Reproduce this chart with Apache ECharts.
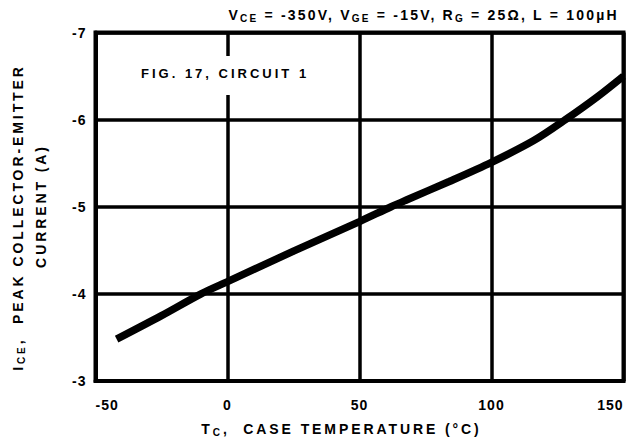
<!DOCTYPE html>
<html>
<head>
<meta charset="utf-8">
<script src="https://cdn.jsdelivr.net/npm/echarts@6/dist/echarts.min.js"></script>
<style>
html,body{margin:0;padding:0;background:#fff;}
#chart{width:628px;height:442px;}
#chart text{letter-spacing:1px;}
#chart text[style*="14.02px"], #chart text[style*="10.02px"]{letter-spacing:2.2px;}
#chart text[style*="14.03px"], #chart text[style*="10.03px"]{letter-spacing:2.9px;}
#chart text[style*="13.01px"]{letter-spacing:3px;}
</style>
</head>
<body>
<div id="chart"></div>
<script>
// Data
const caseTemp = [-42, -25, -10, 0, 25, 50, 62, 68, 84, 100, 116, 128, 140, 150];
const peakCurrent = [-3.48, -3.75, -4.0, -4.14, -4.49, -4.83, -5.0, -5.08, -5.29, -5.51, -5.76, -6.0, -6.26, -6.50];
const xTicks = [-50, 0, 50, 100, 150];
const yTicks = [-7, -6, -5, -4, -3];

const FAM = '"Liberation Sans", Arial, Helvetica, sans-serif';
const chart = echarts.init(document.getElementById('chart'), null, {renderer: 'svg'});

// measure text width including letter spacing
const mctx = document.createElement('canvas').getContext('2d');
function measure(text, size, ls) {
  mctx.font = 'bold ' + size + 'px ' + FAM;
  return mctx.measureText(text).width + text.length * ls;
}
// Build a horizontal run of tokens (main text + subscripts) as a group
function textRun(tokens, opts) {
  const children = [];
  let cx = 0;
  const widths = tokens.map(tk => measure(tk.t, tk.size, tk.ls));
  const total = widths.reduce((a, b) => a + b, 0);
  let start = opts.align === 'center' ? -total / 2 : (opts.align === 'right' ? -total : 0);
  tokens.forEach((tk, i) => {
    children.push({
      type: 'text', x: start + cx, y: tk.dy || 0, z: 100,
      style: {
        text: tk.t, font: 'bold ' + tk.size + 'px ' + FAM, fill: '#000',
        align: 'left', verticalAlign: 'middle'
      }
    });
    cx += widths[i];
  });
  return {type: 'group', x: opts.x, y: opts.y, rotation: opts.rotation || 0, z: 100, children: children};
}

const seriesData = caseTemp.map((t, i) => [t, peakCurrent[i]]);

const TS = 14.02, TSS = 10.02, TL = 2.2;   // title
const NS = 14.03, NSS = 10.03, NL = 2.9;   // axis names

chart.setOption({
  animation: false,
  backgroundColor: '#fff',
  grid: {
    left: 95.5, right: 4.5, top: 32.5, bottom: 61,
    show: true, borderColor: '#000', borderWidth: 4, backgroundColor: 'transparent'
  },
  xAxis: {
    type: 'value',
    min: xTicks[0], max: xTicks[xTicks.length - 1], interval: 50,
    axisLine: {show: true, onZero: false, lineStyle: {color: '#000', width: 4}},
    axisTick: {show: false},
    splitLine: {show: true, lineStyle: {color: '#000', width: 3.5}},
    axisLabel: {
      color: '#000', fontWeight: 'bold', fontSize: 14, fontFamily: FAM, margin: 17,
      alignMinLabel: 'left', alignMaxLabel: 'right'
    }
  },
  yAxis: {
    type: 'value',
    min: yTicks[0], max: yTicks[yTicks.length - 1], interval: 1, inverse: true,
    axisLine: {show: true, onZero: false, lineStyle: {color: '#000', width: 4}},
    axisTick: {show: false},
    splitLine: {show: true, lineStyle: {color: '#000', width: 3.5}},
    axisLabel: {color: '#000', fontWeight: 'bold', fontSize: 14, fontFamily: FAM, margin: 9}
  },
  series: [{
    type: 'line',
    data: seriesData,
    smooth: 0.3,
    showSymbol: false,
    symbol: 'none',
    lineStyle: {color: '#000', width: 7.5, cap: 'butt'},
    z: 5
  }],
  graphic: [
    textRun([
      {t: 'V', size: TS, ls: TL}, {t: 'CE', size: TSS, ls: TL, dy: 3.5},
      {t: ' = -350V, V', size: TS, ls: TL}, {t: 'GE', size: TSS, ls: TL, dy: 3.5},
      {t: ' = -15V, R', size: TS, ls: TL}, {t: 'G', size: TSS, ls: TL, dy: 3.5},
      {t: ' = 25Ω, L = 100µH', size: TS, ls: TL}
    ], {x: 619, y: 15, align: 'right'}),
    {
      type: 'rect', z: 90,
      shape: {x: 130, y: 56, width: 175, height: 39},
      style: {fill: '#fff'}
    },
    {
      type: 'text', z: 100, x: 141, y: 73,
      style: {
        text: 'FIG. 17, CIRCUIT 1',
        font: 'bold 13.01px ' + FAM, fill: '#000', align: 'left', verticalAlign: 'middle'
      }
    },
    textRun([
      {t: 'T', size: NS, ls: NL}, {t: 'C', size: NSS, ls: NL, dy: 3.5},
      {t: ',  CASE TEMPERATURE (°C)', size: NS, ls: NL}
    ], {x: 341.5, y: 429, align: 'center'}),
    textRun([
      {t: 'I', size: NS, ls: NL}, {t: 'CE', size: NSS, ls: NL, dy: 3.5},
      {t: ',  PEAK COLLECTOR-EMITTER', size: NS, ls: NL}
    ], {x: 18, y: 217.5, align: 'center', rotation: Math.PI / 2}),
    textRun([
      {t: 'CURRENT (A)', size: NS, ls: NL}
    ], {x: 41, y: 206, align: 'center', rotation: Math.PI / 2})
  ]
});
</script>
</body>
</html>
